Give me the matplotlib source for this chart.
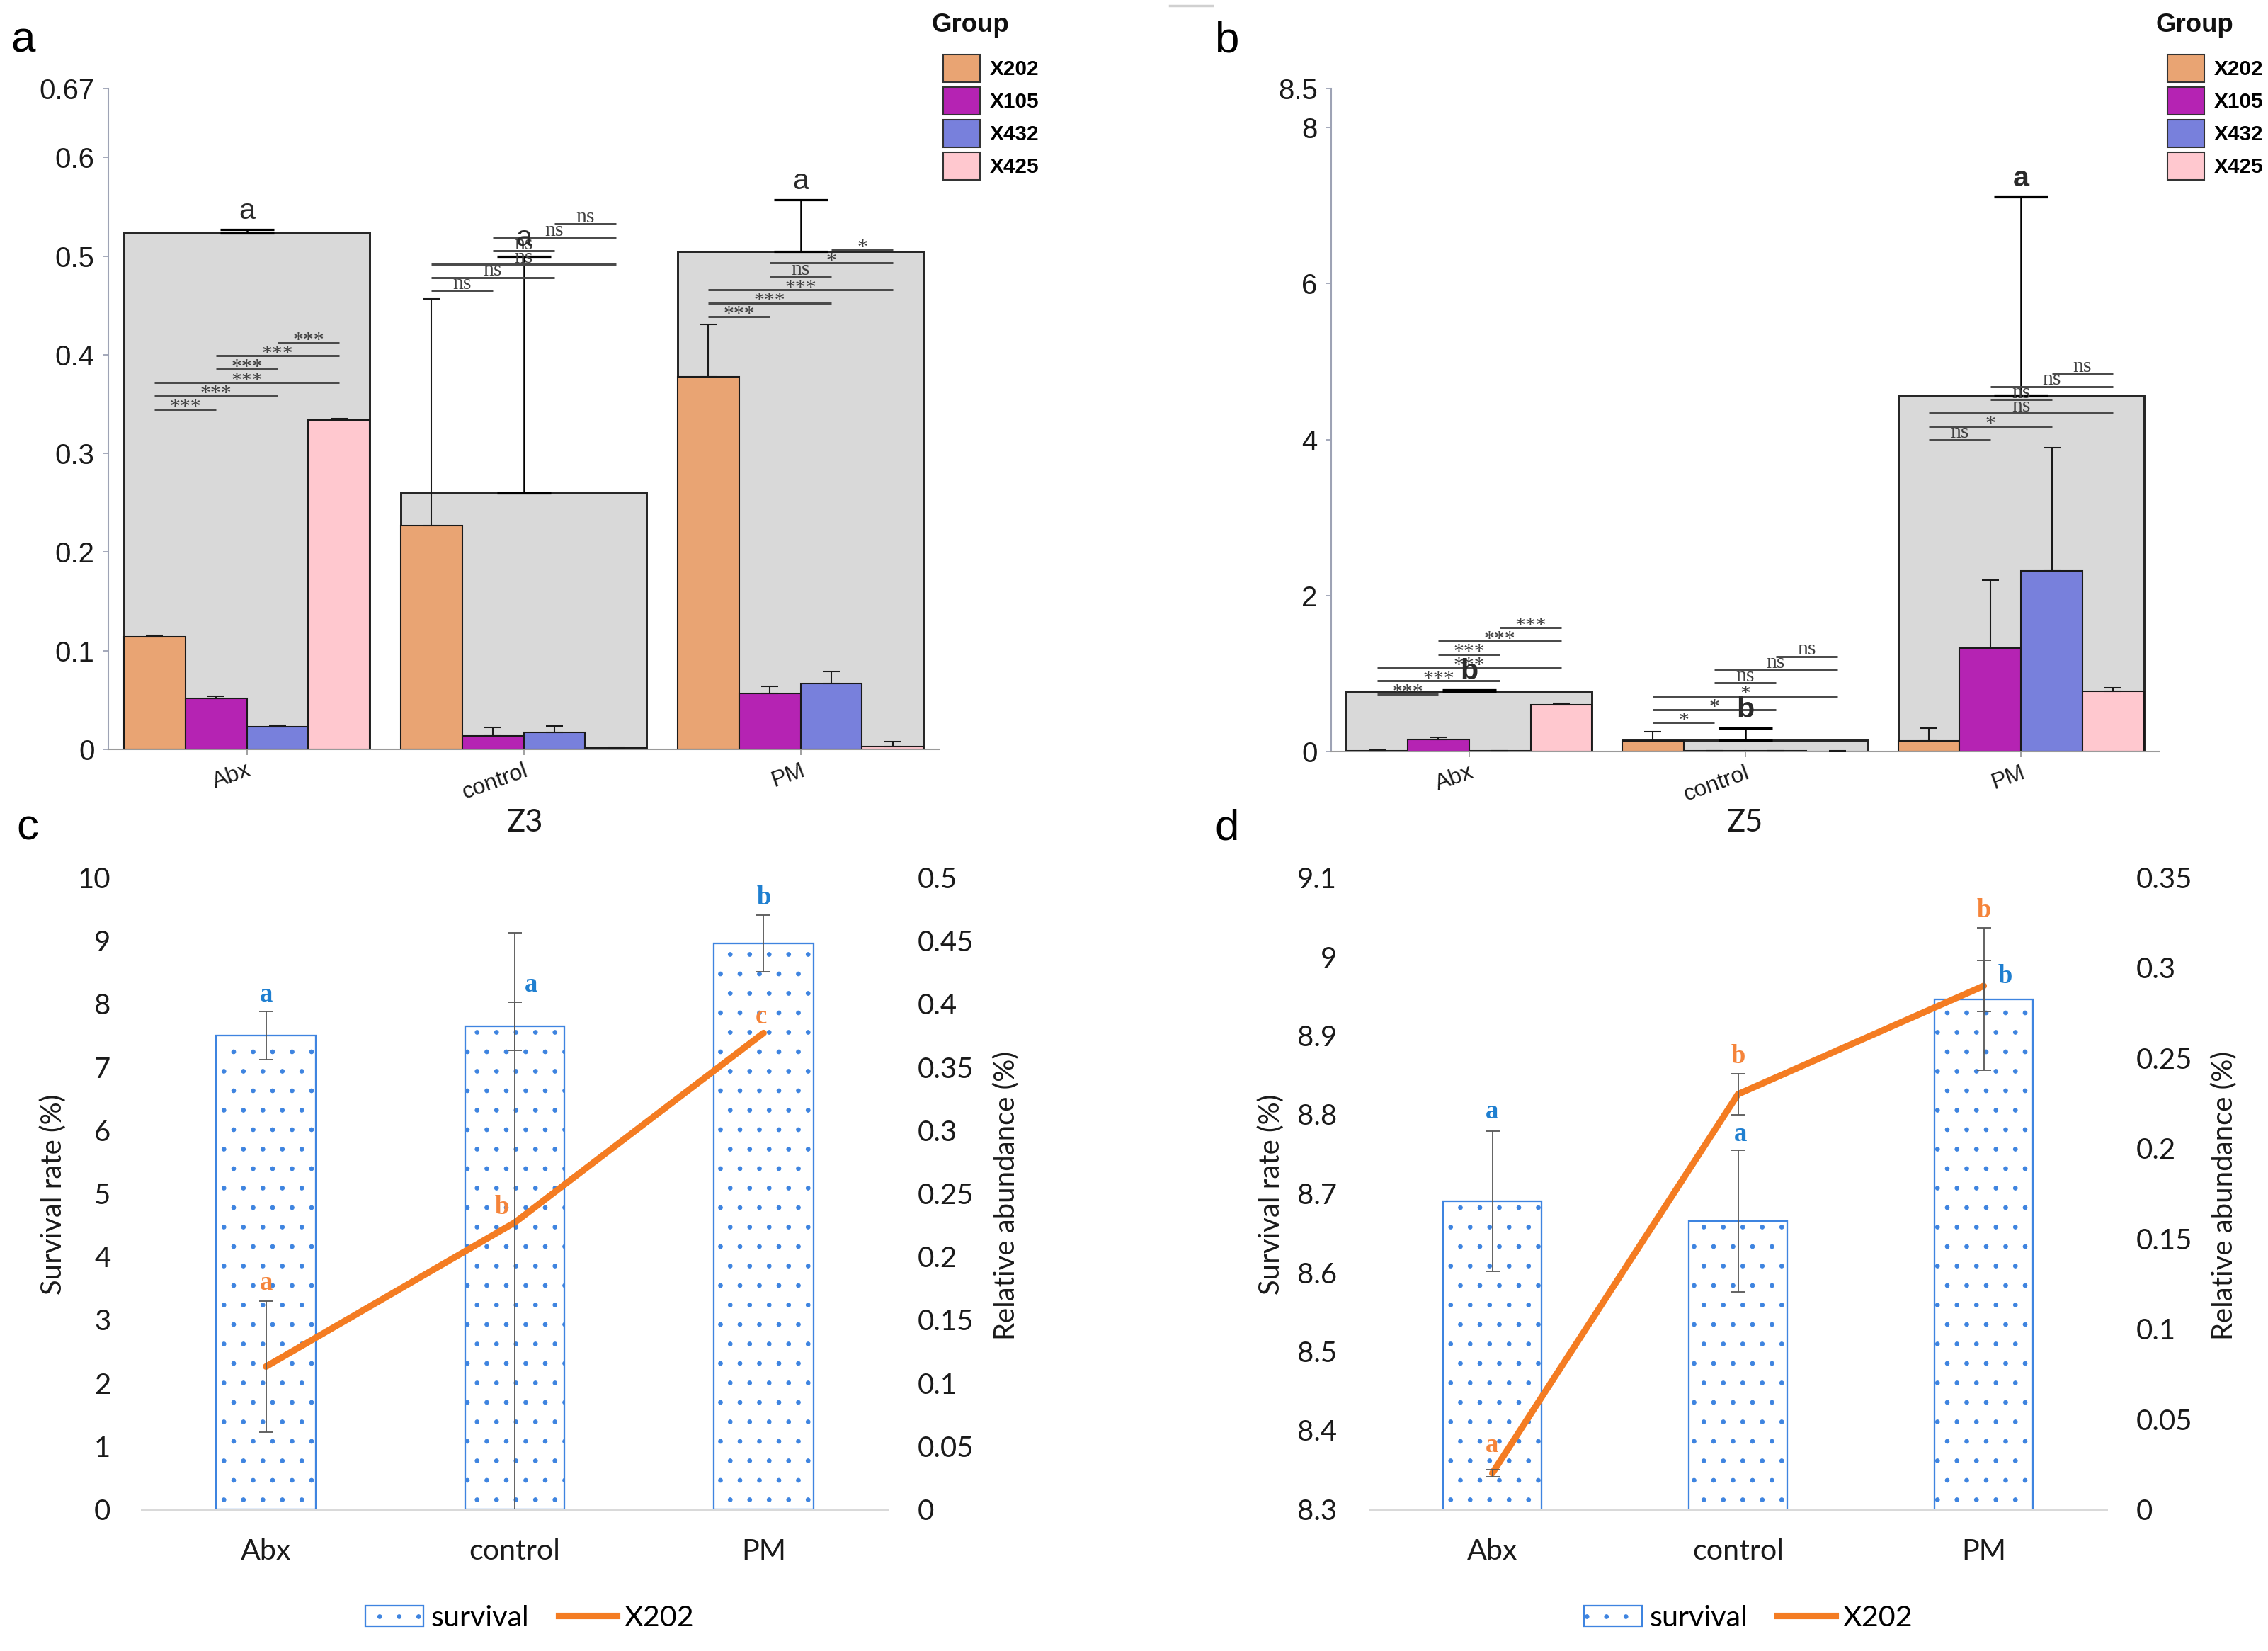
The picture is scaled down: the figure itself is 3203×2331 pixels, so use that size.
import numpy as np
import matplotlib
matplotlib.use('Agg')
import matplotlib.pyplot as plt
from matplotlib.patches import Patch
from matplotlib.lines import Line2D

W, H, DPI = 3203, 2331, 165

# ---------------- data ----------------
groups = ['Abx', 'control', 'PM']
taxa = ['X202', 'X105', 'X432', 'X425']

# panel a : Z3 relative abundance (mean, upper error)
z3_X202 = [0.114, 0.227, 0.378]
z3_X105 = [0.052, 0.014, 0.057]
z3_X432 = [0.023, 0.0175, 0.0665]
z3_X425 = [0.334, 0.0016, 0.0026]
z3_X202_err = [0.0015, 0.230, 0.053]
z3_X105_err = [0.0015, 0.008, 0.007]
z3_X432_err = [0.0015, 0.0063, 0.0122]
z3_X425_err = [0.0015, 0.0004, 0.0054]
z3_total = [0.5235, 0.260, 0.5045]
z3_total_err = [0.0035, 0.240, 0.0525]
z3_letters = ['a', 'a', 'a']
z3_sig_Abx = ['***', '***', '***', '***', '***', '***']
z3_sig_control = ['ns', 'ns', 'ns', 'ns', 'ns', 'ns']
z3_sig_PM = ['***', '***', '***', 'ns', '*', '*']

# panel b : Z5 relative abundance
z5_X202 = [0.012, 0.14, 0.14]
z5_X105 = [0.154, 0.006, 1.325]
z5_X432 = [0.01, 0.006, 2.32]
z5_X425 = [0.596, 0.004, 0.77]
z5_X202_err = [0.003, 0.114, 0.16]
z5_X105_err = [0.026, 0.002, 0.875]
z5_X432_err = [0.002, 0.002, 1.58]
z5_X425_err = [0.024, 0.001, 0.05]
z5_total = [0.77, 0.147, 4.57]
z5_total_err = [0.02, 0.15, 2.54]
z5_letters = ['b', 'b', 'a']
z5_sig_Abx = ['***', '***', '***', '***', '***', '***']
z5_sig_control = ['*', '*', '*', 'ns', 'ns', 'ns']
z5_sig_PM = ['ns', '*', 'ns', 'ns', 'ns', 'ns']

# panel c : Z3 survival vs X202
c_survival = [7.5, 7.65, 8.96]
c_survival_err = [0.38, 0.38, 0.45]
c_x202 = [0.113, 0.227, 0.377]
c_x202_err = [0.052, 0.229, np.nan]
c_surv_letters = ['a', 'a', 'b']
c_x202_letters = ['a', 'b', 'c']

# panel d : Z5 survival vs X202
d_survival = [8.69, 8.665, 8.946]
d_survival_err = [0.089, 0.09, 0.09]
d_x202 = [0.02, 0.23, 0.29]
d_x202_err = [0.002, 0.0115, 0.014]
d_surv_letters = ['a', 'a', 'b']
d_x202_letters = ['a', 'b', 'b']

pairs = [(0, 1), (0, 2), (0, 3), (1, 2), (1, 3), (2, 3)]

# ---------------- style ----------------
TAXA_COLORS = ['#E9A473', '#B523B3', '#7880DC', '#FFC8CF']
BLUE_EDGE = '#3E84E0'
BLUE_TXT = '#1F7FD0'
ORANGE = '#F47C22'
ORANGE_TXT = '#F5843A'
SERIF = ['Liberation Serif', 'DejaVu Serif']

plt.rcParams['font.family'] = ['Liberation Sans', 'DejaVu Sans']
plt.rcParams['hatch.linewidth'] = 0.5

fig = plt.figure(figsize=(W / DPI, H / DPI), dpi=DPI)


def rect(l, t, r, b):
    return [l / W, 1 - b / H, (r - l) / W, (b - t) / H]


def draw_abundance(ax, means, errs, total, total_err, letters, sigs, sig_base,
                   step, ymax, yticks, letter_weight, title_xy, legend_xy):
    n = len(taxa)
    gw = 0.89
    bw = gw / n
    xc = np.arange(len(groups))
    ax.bar(xc, total, width=gw, color='#D9D9D9', edgecolor='#262626',
           linewidth=1.3, zorder=1)
    ax.errorbar(xc, total, yerr=[np.zeros(len(total)), total_err], fmt='none',
                ecolor='black', elinewidth=1.1, capsize=16.5, capthick=1.4,
                zorder=4)
    for i in range(n):
        xs = xc + (i - (n - 1) / 2) * bw
        ax.bar(xs, means[i], width=bw, color=TAXA_COLORS[i],
               edgecolor='#1a1a1a', linewidth=0.9, zorder=2)
        ax.errorbar(xs, means[i], yerr=[np.zeros(len(xs)), errs[i]],
                    fmt='none', ecolor='#1a1a1a', elinewidth=0.9,
                    capsize=5.3, capthick=0.9, zorder=3)
    for g in range(len(groups)):
        for k, (i, j) in enumerate(pairs):
            y = sig_base[g] + k * step
            x1 = xc[g] + (i - 1.5) * bw
            x2 = xc[g] + (j - 1.5) * bw
            ax.plot([x1, x2], [y, y], color='#4a4a4a', lw=1.3, zorder=5,
                    solid_capstyle='butt')
            lab = sigs[g][k]
            dy = -2 if '*' in lab else 1
            ax.annotate(lab, ((x1 + x2) / 2, y), xytext=(0, dy),
                        textcoords='offset points', ha='center',
                        va='baseline', fontsize=13, family=SERIF,
                        color='#404040', zorder=6)
        ax.annotate(letters[g], (xc[g], total[g] + total_err[g]),
                    xytext=(0, 6.5), textcoords='offset points', ha='center',
                    va='baseline', fontsize=18, fontweight=letter_weight,
                    color='#2a2a2a', zorder=7)
    ax.set_xlim(-0.5, 2.5)
    ax.set_ylim(0, ymax)
    ax.set_yticks(yticks)
    ax.set_yticklabels([f'{v:g}' for v in yticks])
    ax.set_xticks(xc)
    ax.set_xticklabels(groups, rotation=20, ha='right', rotation_mode='anchor',
                       fontsize=14)
    for s in ['top', 'right']:
        ax.spines[s].set_visible(False)
    ax.spines['left'].set_color('#9EA3B5')
    ax.spines['bottom'].set_color('#9A9A9A')
    ax.spines['left'].set_linewidth(0.9)
    ax.spines['bottom'].set_linewidth(0.9)
    ax.tick_params(axis='y', length=3.5, width=0.8, color='#9EA3B5',
                   labelcolor='#1a1a1a', labelsize=17.5, pad=5)
    ax.tick_params(axis='x', length=3.5, width=0.8, color='#9A9A9A',
                   labelcolor='#1a1a1a', pad=3)
    fig.text(title_xy[0] / W, 1 - title_xy[1] / H, 'Group', ha='left',
             va='baseline', fontsize=16, fontweight='bold', color='#111111')
    handles = [Patch(facecolor=c, edgecolor='#333333', linewidth=0.9)
               for c in TAXA_COLORS]
    ax.legend(handles, taxa, loc='upper left',
              bbox_to_anchor=(legend_xy[0] / W, 1 - legend_xy[1] / H),
              bbox_transform=fig.transFigure, frameon=False, borderpad=0,
              borderaxespad=0, handlelength=1.75, handleheight=1.64,
              handletextpad=0.44, labelspacing=0.235,
              prop={'weight': 'bold', 'size': 13})


def fmt(v):
    return f'{round(v, 3):g}'


def draw_survival(ax, surv, surv_err, x202, x202_err, surv_letters,
                  x202_letters, ylim, yticks, y2lim, y2ticks, blue_off,
                  blue_dx, orange_off, orange_dx, lpad, rpad):
    x = np.arange(len(groups))
    ax.bar(x, surv, width=0.4, color='white', edgecolor=BLUE_EDGE,
           hatch='.', linewidth=1.0, zorder=2)
    ax.errorbar(x, surv, yerr=surv_err, fmt='none', ecolor='#595959',
                elinewidth=0.8, capsize=4.4, capthick=0.8, zorder=3)
    ax.set_xlim(-0.5, 2.5)
    ax.set_ylim(*ylim)
    ax.set_yticks(yticks)
    ax.set_yticklabels([fmt(v) for v in yticks])
    ax.set_xticks(x)
    ax.set_xticklabels(groups)
    for s in ['top', 'right', 'left']:
        ax.spines[s].set_visible(False)
    ax.spines['bottom'].set_color('#D9D9D9')
    ax.spines['bottom'].set_linewidth(1.3)
    ax.tick_params(axis='y', length=0, labelsize=17.5, pad=lpad,
                   labelcolor='#1a1a1a')
    ax.tick_params(axis='x', length=0, labelsize=18, pad=18,
                   labelcolor='#1a1a1a')
    for i in range(len(groups)):
        ax.text(x[i] + blue_dx[i], surv[i] + surv_err[i] + blue_off[i],
                surv_letters[i], ha='center', va='center', fontsize=16,
                fontweight='bold', family=SERIF, color=BLUE_TXT, zorder=6)

    ax2 = ax.twinx()
    ax2.plot(x, x202, color=ORANGE, lw=4, zorder=3, solid_capstyle='round')
    e = np.array(x202_err, dtype=float)
    m = np.isfinite(e)
    ax2.errorbar(x[m], np.array(x202)[m], yerr=e[m], fmt='none',
                 ecolor='#595959', elinewidth=0.8, capsize=4.4, capthick=0.8,
                 zorder=4)
    ax2.set_ylim(*y2lim)
    ax2.set_yticks(y2ticks)
    ax2.set_yticklabels([fmt(v) for v in y2ticks])
    for s in ax2.spines.values():
        s.set_visible(False)
    ax2.tick_params(axis='y', length=0, labelsize=17.5, pad=rpad,
                    labelcolor='#1a1a1a')
    for i in range(len(groups)):
        ax2.text(x[i] + orange_dx[i], x202[i] + orange_off[i],
                 x202_letters[i], ha='center', va='center', fontsize=16,
                 fontweight='bold', family=SERIF, color=ORANGE_TXT, zorder=6)
    return ax2


# ---------------- panel a ----------------
ax_a = fig.add_axes(rect(153, 125, 1326, 1058))
draw_abundance(ax_a, [z3_X202, z3_X105, z3_X432, z3_X425],
               [z3_X202_err, z3_X105_err, z3_X432_err, z3_X425_err],
               z3_total, z3_total_err, z3_letters,
               [z3_sig_Abx, z3_sig_control, z3_sig_PM],
               [0.345, 0.465, 0.439], 0.0135, 0.67,
               [0, 0.1, 0.2, 0.3, 0.4, 0.5, 0.6, 0.67], 'normal',
               (1315, 45), (1332, 77))

# ---------------- panel b ----------------
ax_b = fig.add_axes(rect(1880, 125, 3049, 1061))
draw_abundance(ax_b, [z5_X202, z5_X105, z5_X432, z5_X425],
               [z5_X202_err, z5_X105_err, z5_X432_err, z5_X425_err],
               z5_total, z5_total_err, z5_letters,
               [z5_sig_Abx, z5_sig_control, z5_sig_PM],
               [0.736, 0.37, 4.0], 0.17, 8.5,
               [0, 2, 4, 6, 8, 8.5], 'bold', (3044, 45), (3061, 77))

# ---------------- panel c ----------------
plt.rcParams['font.family'] = ['Lato', 'DejaVu Sans']
ax_c = fig.add_axes(rect(200, 1239, 1254, 2131))
draw_survival(ax_c, c_survival, c_survival_err, c_x202, c_x202_err,
              c_surv_letters, c_x202_letters, (0, 10), list(range(0, 11)),
              (0, 0.5), list(np.round(np.arange(0, 0.501, 0.05), 2)),
              [0.27, 0.27, 0.27], [0, 0.065, 0],
              [0.066, 0.012, 0.013], [0, -0.052, -0.01], 19, 18)

# ---------------- panel d ----------------
ax_d = fig.add_axes(rect(1934, 1239, 2975, 2131))
draw_survival(ax_d, d_survival, d_survival_err, d_x202, d_x202_err,
              d_surv_letters, d_x202_letters, (8.3, 9.1),
              list(np.round(np.arange(8.3, 9.101, 0.1), 1)),
              (0, 0.35), list(np.round(np.arange(0, 0.351, 0.05), 2)),
              [0.025, 0.02, -0.061], [0, 0.01, 0.086],
              [0.0154, 0.021, 0.0416], [0, 0, 0], 20, 18)

# axis labels and titles for c / d
for cx, rx in [(75, 1421), (1795, 3141)]:
    fig.text(cx / W, 1 - 1686 / H, 'Survival rate (%)', rotation=90,
             ha='center', va='center', fontsize=17.5, color='#1a1a1a')
    fig.text(rx / W, 1 - 1688 / H, 'Relative abundance (%)', rotation=90,
             ha='center', va='center', fontsize=17.5, color='#1a1a1a')
fig.text(742 / W, 1 - 1174 / H, 'Z3', ha='center', va='baseline',
         fontsize=19, color='#1a1a1a')
fig.text(2464 / W, 1 - 1174 / H, 'Z5', ha='center', va='baseline',
         fontsize=19, color='#1a1a1a')

# legends for c / d
for cx in [748, 2469]:
    h = [Patch(facecolor='white', edgecolor=BLUE_EDGE, hatch='.',
               linewidth=1.0),
         Line2D([], [], color=ORANGE, lw=4)]
    fig.legend(h, ['survival', 'X202'], loc='center',
               bbox_to_anchor=(cx / W, 1 - 2284 / H), ncol=2, frameon=False,
               fontsize=18, handlelength=2.0, handleheight=0.7,
               handletextpad=0.25, columnspacing=1.0, borderpad=0)

# panel letters
plt.rcParams['font.family'] = ['Liberation Sans', 'DejaVu Sans']
for lab, px, py in [('a', 15, 74), ('b', 1715, 74), ('c', 23, 1186),
                    ('d', 1715, 1186)]:
    fig.text(px / W, 1 - py / H, lab, ha='left', va='baseline', fontsize=27,
             color='black')

fig.add_artist(Line2D([1652 / W, 1712 / W], [1 - 8 / H, 1 - 8 / H],
                      color='#D0D0D0', lw=1.5))

fig.savefig('out.png', dpi=DPI)
